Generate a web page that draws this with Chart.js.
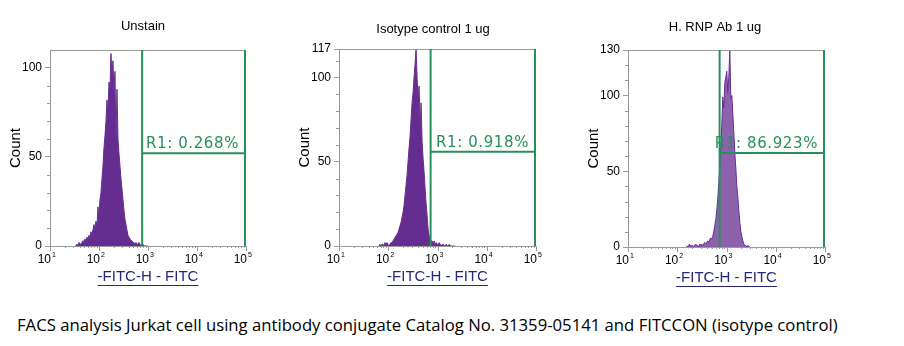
<!DOCTYPE html>
<html>
<head>
<meta charset="utf-8">
<script src="https://cdn.jsdelivr.net/npm/chart.js@4.4.0/dist/chart.umd.min.js"></script>
<style>
  body { margin: 0; background: #fff; width: 904px; height: 346px; position: relative; overflow: hidden; }
  canvas { position: absolute; top: 0; }
  #caption { position: absolute; left: 17px; top: 313px; font-family: 'Open Sans'; font-size: 15px; color: #000; white-space: nowrap; }
</style>
</head>
<body>
<canvas id="c1" width="290" height="300" style="left:0px"></canvas>
<canvas id="c2" width="290" height="300" style="left:290px"></canvas>
<canvas id="c3" width="324" height="300" style="left:580px"></canvas>
<div id="caption">FACS analysis Jurkat cell using antibody conjugate Catalog No. 31359-05141 and FITCCON (isotype control)</div>
<script>
// histogram channels: counts per bin, bins are 0.0204 decade wide starting at a log10 value
const binStep = 0.0204;

const unstainStart = 1.51;
const unstainCounts = [0, 0, 1, 0, 2, 1, 1, 2, 3, 2, 4, 3, 5, 4, 6, 5, 8, 7, 9, 12, 10, 14, 11, 22, 18, 26,
  30, 38, 45, 55, 62, 70, 82, 76, 92, 88, 108, 96, 104, 85, 98, 58, 88, 60, 52, 45, 38, 32, 26,
  20, 15, 12, 9, 6, 5, 4, 3, 3, 2, 2, 1, 2, 1, 1, 2, 1, 0, 1, 1, 0, 0, 0, 0, 0];

const isotypeStart = 1.81;
const isotypeCounts = [0, 1, 0, 1, 1, 0, 2, 1, 2, 1, 0, 1, 2, 2, 3, 4, 5, 6, 7, 8,
  10, 12, 14, 17, 20, 24, 30, 36, 42, 50, 58, 65, 75, 85, 91, 100, 108, 117, 100,
  88, 95, 72, 85, 62, 52, 44, 34, 25, 18, 10, 6, 4, 3, 3, 2, 3, 1, 2, 1,
  1, 2, 1, 0, 1, 1, 0, 0, 1, 0, 0, 1, 0, 0, 0, 0, 0, 0];

const rnpStart = 2.19;
const rnpCounts = [1, 0, 1, 2, 0, 1, 1, 0, 1, 2, 1, 1, 0, 2, 1, 2, 1, 2, 3, 2, 3,
  4, 3, 5, 6, 5, 7, 10, 14, 18, 24, 32, 42, 53, 66, 80, 99, 92, 108, 112,
  116, 102, 112, 130, 98, 100, 88, 75, 62, 52, 40, 33, 24, 16, 10, 7, 4, 2, 1, 1, 0, 1, 0, 0];

const panelTitles = ['Unstain', 'Isotype control 1 ug', 'H. RNP Ab 1 ug'];
const yMax = [110, 117, 130];
const yLabels = [[0, 50, 100], [0, 50, 100, 117], [0, 50, 100, 130]];
const gateLow = [760, 725, 725];
const gateHigh = 100000;
const gateLevel = [52, 56, 62];
const gateText = ['R1: 0.268%', 'R1: 0.918%', 'R1: 86.923%'];
const xExponents = [1, 2, 3, 4, 5];

const purple = '#662d91';
const green = '#27905c';
const axisGray = '#9a9a9a';

function toPoints(start, counts) {
  return counts.map((c, i) => ({ x: Math.pow(10, start + i * binStep), y: c }));
}

const facsPlugin = {
  id: 'facs',
  afterDraw(chart, args, opts) {
    const ctx = chart.ctx;
    const a = chart.chartArea;
    const x = chart.scales.x;
    const y = chart.scales.y;
    ctx.save();

    // frame lines
    ctx.strokeStyle = axisGray;
    ctx.lineWidth = 1;
    ctx.beginPath();
    ctx.moveTo(a.left, Math.round(a.top) + 0.5);
    ctx.lineTo(a.right, Math.round(a.top) + 0.5);
    ctx.moveTo(a.left, Math.round(a.bottom) + 0.5);
    ctx.lineTo(a.right, Math.round(a.bottom) + 0.5);
    ctx.stroke();

    // log ticks on x
    ctx.beginPath();
    xExponents.forEach(e => {
      for (let k = 1; k <= 9; k++) {
        const v = k * Math.pow(10, e);
        if (v > 100000) break;
        const px = Math.round(x.getPixelForValue(v)) + 0.5;
        const len = k === 1 ? 5 : 2;
        ctx.moveTo(px, a.bottom);
        ctx.lineTo(px, a.bottom + len);
      }
    });
    // minor ticks on y every 10
    for (let v = 10; v < opts.yMax; v += 10) {
      if (v % 50 === 0) continue;
      const py = Math.round(y.getPixelForValue(v)) + 0.5;
      ctx.moveTo(a.left - 3, py);
      ctx.lineTo(a.left, py);
    }
    ctx.stroke();

    // x tick labels 10^n
    ctx.fillStyle = '#000';
    xExponents.forEach(e => {
      const px = x.getPixelForValue(Math.pow(10, e));
      ctx.font = '12px "Liberation Sans", Arial';
      ctx.textAlign = 'right';
      ctx.textBaseline = 'middle';
      ctx.fillText('10', px + 1, a.bottom + 14);
      ctx.font = '7px "Liberation Sans", Arial';
      ctx.textAlign = 'left';
      ctx.fillText(String(e), px + 2, a.bottom + 9);
    });

    // gate
    const gx1 = x.getPixelForValue(opts.gateLow);
    const gx2 = x.getPixelForValue(gateHigh);
    const gy = y.getPixelForValue(opts.gateLevel);
    ctx.strokeStyle = green;
    ctx.lineWidth = 2;
    ctx.beginPath();
    ctx.moveTo(gx1, a.top);
    ctx.lineTo(gx1, a.bottom);
    ctx.moveTo(gx2 - 1, a.top);
    ctx.lineTo(gx2 - 1, a.bottom);
    ctx.moveTo(gx1, gy);
    ctx.lineTo(gx2, gy);
    ctx.stroke();
    ctx.fillStyle = green;
    ctx.font = '15px "DejaVu Sans"';
    ctx.letterSpacing = '0.6px';
    ctx.textAlign = 'right';
    ctx.textBaseline = 'alphabetic';
    ctx.fillText(opts.gateText, gx2 - 7, gy - 5);
    ctx.letterSpacing = '0px';

    // y axis title
    ctx.fillStyle = '#000';
    ctx.font = '15px "Liberation Sans", Arial';
    ctx.textAlign = 'center';
    ctx.textBaseline = 'middle';
    ctx.save();
    ctx.translate(a.left - 34, (a.top + a.bottom) / 2);
    ctx.rotate(-Math.PI / 2);
    ctx.fillText('Count', 0, 0);
    ctx.restore();

    // x axis title, underlined
    const xt = '-FITC-H - FITC';
    const cx = (a.left + a.right) / 2;
    ctx.fillStyle = '#26267a';
    ctx.strokeStyle = '#26267a';
    ctx.lineWidth = 1;
    ctx.font = '15px "Liberation Sans", Arial';
    ctx.fillText(xt, cx, a.bottom + 31);
    const w = ctx.measureText(xt).width;
    ctx.beginPath();
    ctx.moveTo(cx - w / 2, a.bottom + 39.5);
    ctx.lineTo(cx + w / 2, a.bottom + 39.5);
    ctx.stroke();

    // panel title
    ctx.fillStyle = '#000';
    ctx.font = '13px "Liberation Sans", Arial';
    ctx.fillText(opts.title, opts.titleX, opts.titleY);

    ctx.restore();
  }
};

function makePanel(id, idx, start, counts, pad, titleX, titleY, fillColor) {
  return new Chart(document.getElementById(id), {
    type: 'line',
    data: {
      datasets: [{
        data: toPoints(start, counts),
        borderColor: purple,
        backgroundColor: fillColor,
        borderWidth: 1,
        pointRadius: 0,
        tension: 0,
        fill: 'origin'
      }]
    },
    options: {
      responsive: false,
      animation: false,
      devicePixelRatio: 1,
      layout: { padding: pad },
      plugins: {
        legend: { display: false },
        tooltip: { enabled: false },
        facs: {
          yMax: yMax[idx],
          gateLow: gateLow[idx],
          gateLevel: gateLevel[idx],
          gateText: gateText[idx],
          title: panelTitles[idx],
          titleX: titleX,
          titleY: titleY
        }
      },
      scales: {
        x: {
          type: 'logarithmic',
          min: 10,
          max: 100000,
          ticks: { display: false },
          grid: { display: false },
          border: { display: false },
          afterFit(scale) { scale.height = 40; }
        },
        y: {
          min: 0,
          max: yMax[idx],
          afterBuildTicks(scale) { scale.ticks = yLabels[idx].map(v => ({ value: v })); },
          ticks: {
            color: '#000',
            font: { family: '"Liberation Sans", Arial', size: 12 },
            padding: 3
          },
          grid: { drawOnChartArea: false, drawTicks: true, tickLength: 5, tickColor: axisGray },
          border: { display: true, color: axisGray },
          afterFit(scale) { scale.width = 40; }
        }
      }
    },
    plugins: [facsPlugin]
  });
}

makePanel('c1', 0, unstainStart, unstainCounts, { left: 10, right: 44, top: 50, bottom: 14 }, 143, 26, purple);
makePanel('c2', 1, isotypeStart, isotypeCounts, { left: 9, right: 44, top: 49, bottom: 14 }, 143, 29, purple);
makePanel('c3', 2, rnpStart, rnpCounts, { left: 8, right: 79, top: 50, bottom: 13 }, 135, 27, 'rgba(102,45,145,0.75)');

// fit the caption to the width it has in the figure
const cap = document.getElementById('caption');
const capW = cap.getBoundingClientRect().width;
cap.style.fontSize = (15 * 821 / capW).toFixed(2) + 'px';
</script>
</body>
</html>
